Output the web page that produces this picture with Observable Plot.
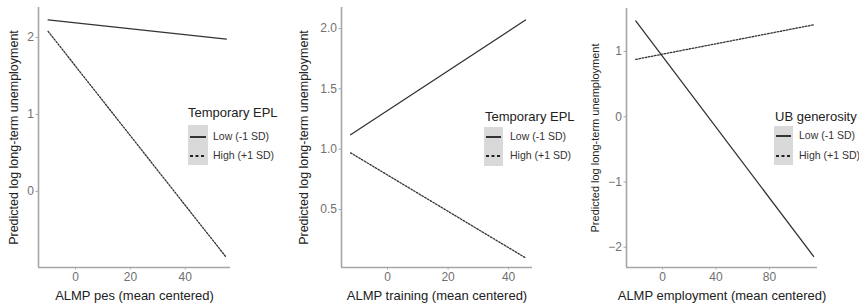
<!DOCTYPE html>
<html>
<head>
<meta charset="utf-8">
<script src="https://cdn.jsdelivr.net/npm/d3@7"></script>
<script src="https://cdn.jsdelivr.net/npm/@observablehq/plot@0.6"></script>
<style>
  html, body { margin: 0; padding: 0; background: #fff; }
  #wrap { position: relative; width: 859px; height: 306px; overflow: hidden; font-family: "Liberation Sans", Arial, sans-serif; }
  .panel { position: absolute; top: 0; }
  .lg-title { position: absolute; font-size: 13px; color: #222; white-space: nowrap; line-height: 1; }
  .lg-box { position: absolute; background: #d9d9d9; }
  .lg-label { position: absolute; font-size: 10.5px; color: #333; white-space: nowrap; line-height: 1; }
</style>
</head>
<body>
<div id="wrap"></div>
<script>
// ---- data ----
const levels = ["Low (-1 SD)", "High (+1 SD)"];
const yLabel = "Predicted log long-term unemployment";

// Panel 1: ALMP pes
const p1Title = "ALMP pes (mean centered)";
const p1Legend = "Temporary EPL";
const p1X = [-10, 55];
const p1Low = [2.23, 1.98];
const p1High = [2.08, -0.86];
const p1XTicks = [0, 20, 40];
const p1YTicks = [0, 1, 2];

// Panel 2: ALMP training
const p2Title = "ALMP training (mean centered)";
const p2Legend = "Temporary EPL";
const p2X = [-12.2, 45.6];
const p2Low = [1.12, 2.07];
const p2High = [0.97, 0.10];
const p2XTicks = [0, 20, 40];
const p2YTicks = [0.5, 1.0, 1.5, 2.0];

// Panel 3: ALMP employment
const p3Title = "ALMP employment (mean centered)";
const p3Legend = "UB generosity";
const p3X = [-20, 113];
const p3Low = [1.47, -2.14];
const p3High = [0.88, 1.41];
const p3XTicks = [0, 40, 80];
const p3YTicks = [-2, -1, 0, 1];

function rows(xs, low, high) {
  const out = [];
  xs.forEach((x, i) => out.push({x, y: low[i], g: levels[0]}));
  xs.forEach((x, i) => out.push({x, y: high[i], g: levels[1]}));
  return out;
}

const wrap = document.getElementById("wrap");

function panel(cfg) {
  const data = rows(cfg.xs, cfg.low, cfg.high);
  const plot = Plot.plot({
    width: cfg.width,
    height: 306,
    marginLeft: cfg.ml,
    marginRight: cfg.mr,
    marginTop: cfg.mt,
    marginBottom: 39,
    style: { fontFamily: "Liberation Sans, Arial, sans-serif", background: "transparent", overflow: "visible" },
    x: { domain: cfg.xDomain },
    y: { domain: cfg.yDomain },
    marks: [
      Plot.ruleX([cfg.xDomain[0]], { stroke: "#a6a6a6", strokeWidth: 1.6 }),
      Plot.ruleY([cfg.yDomain[0]], { stroke: "#a6a6a6", strokeWidth: 1.6 }),
      Plot.axisX({ ticks: cfg.xTicks, tickFormat: cfg.xFmt, tickSize: 2.5, tickPadding: 2, stroke: "#a6a6a6", color: "#707070", fontSize: 12, label: null }),
      Plot.axisY({ ticks: cfg.yTicks, tickFormat: cfg.yFmt, tickSize: 2.5, tickPadding: 2, stroke: "#a6a6a6", color: "#707070", fontSize: 12, label: null }),
      Plot.line(data.filter(d => d.g === levels[0]), { x: "x", y: "y", stroke: "#333", strokeWidth: 1.3 }),
      Plot.line(data.filter(d => d.g === levels[1]), { x: "x", y: "y", stroke: "#333", strokeWidth: 1.3, strokeDasharray: "1.6,1.6" }),
      Plot.text([cfg.title], { frameAnchor: "bottom", dy: 28, lineAnchor: "middle", textAnchor: "middle", text: d => d, fontSize: 13, fill: "#222" }),
      Plot.text([yLabel], { frameAnchor: "left", dx: -cfg.yLabOff, rotate: -90, textAnchor: "middle", lineAnchor: "middle", text: d => d, fontSize: cfg.yLabSize, fill: "#222" })
    ]
  });
  plot.classList.add("panel");
  plot.style.left = cfg.left + "px";
  wrap.appendChild(plot);

  // legend
  const L = cfg.legend;
  const t = document.createElement("div");
  t.className = "lg-title"; t.textContent = cfg.legendTitle;
  t.style.left = L.x + "px"; t.style.top = (L.ty - 7) + "px";
  wrap.appendChild(t);
  const b = document.createElement("div");
  b.className = "lg-box";
  b.style.left = L.bx + "px"; b.style.top = L.by + "px";
  b.style.width = L.bw + "px"; b.style.height = L.bh + "px";
  wrap.appendChild(b);
  const ns = "http://www.w3.org/2000/svg";
  const key = document.createElementNS(ns, "svg");
  key.setAttribute("width", L.bw); key.setAttribute("height", L.bh);
  key.style.position = "absolute"; key.style.left = L.bx + "px"; key.style.top = L.by + "px";
  [[L.y1, null], [L.y2, "3,2.5"]].forEach(([yy, dash]) => {
    const ln = document.createElementNS(ns, "line");
    ln.setAttribute("x1", 2); ln.setAttribute("x2", L.bw - 2);
    ln.setAttribute("y1", yy - L.by); ln.setAttribute("y2", yy - L.by);
    ln.setAttribute("stroke", "#222"); ln.setAttribute("stroke-width", 1.8);
    if (dash) ln.setAttribute("stroke-dasharray", dash);
    key.appendChild(ln);
  });
  wrap.appendChild(key);
  levels.forEach((lab, i) => {
    const d = document.createElement("div");
    d.className = "lg-label"; d.textContent = lab;
    d.style.left = L.lx + "px"; d.style.top = ((i ? L.y2 : L.y1) - 6) + "px";
    wrap.appendChild(d);
  });
}

panel({
  left: 0, width: 290, ml: 38, mr: 60, mt: 7,
  xDomain: [-13.5, 56.5], yDomain: [-0.99, 2.39],
  xs: p1X, low: p1Low, high: p1High,
  xTicks: p1XTicks, yTicks: p1YTicks, xFmt: d3.format("d"), yFmt: d3.format("d"),
  title: p1Title, yLabOff: 25, yLabSize: 12.5,
  legendTitle: p1Legend,
  legend: { x: 188, ty: 113, bx: 188, by: 125, bw: 20, bh: 40, y1: 137, y2: 156, lx: 213 }
});

panel({
  left: 290, width: 290, ml: 51, mr: 48, mt: 7,
  xDomain: [-15.2, 47.9], yDomain: [0.02, 2.174],
  xs: p2X, low: p2Low, high: p2High,
  xTicks: p2XTicks, yTicks: p2YTicks, xFmt: d3.format("d"), yFmt: d3.format(".1f"),
  title: p2Title, yLabOff: 38, yLabSize: 12.5,
  legendTitle: p2Legend,
  legend: { x: 485, ty: 117, bx: 484, by: 127, bw: 19, bh: 39, y1: 137, y2: 156, lx: 510 }
});

panel({
  left: 570, width: 289, ml: 56, mr: 42, mt: 8,
  xDomain: [-26.9, 115.9], yDomain: [-2.31, 1.66],
  xs: p3X, low: p3Low, high: p3High,
  xTicks: p3XTicks, yTicks: p3YTicks, xFmt: d3.format("d"), yFmt: d3.format("d"),
  title: p3Title, yLabOff: 31, yLabSize: 11,
  legendTitle: p3Legend,
  legend: { x: 775, ty: 117, bx: 774, by: 126, bw: 19, bh: 39, y1: 136, y2: 156, lx: 799 }
});
</script>
</body>
</html>
